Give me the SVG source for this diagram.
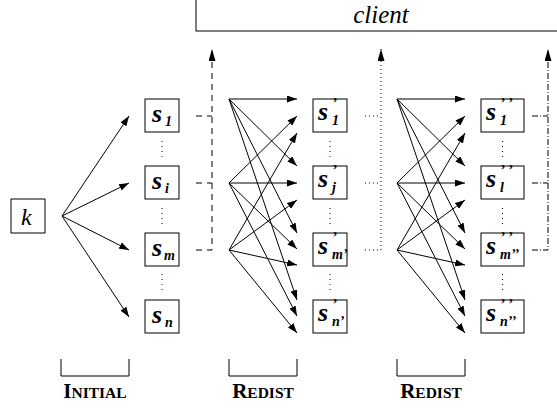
<svg xmlns="http://www.w3.org/2000/svg" width="557" height="410" viewBox="0 0 557 410">
<style>
.bx{fill:#fff;stroke:#000;stroke-width:1}
.ln{fill:none;stroke:#000;stroke-width:1}
.s{font-family:'Liberation Serif',serif;font-style:italic;font-weight:bold;font-size:26px;fill:#000}
.sb{font-size:14px}
.pr{font-size:15px}
.dots{fill:none;stroke:#000;stroke-width:1;stroke-dasharray:1,4}
.dash{fill:none;stroke:#000;stroke-width:1;stroke-dasharray:6,5}
.dot{fill:none;stroke:#000;stroke-width:1;stroke-dasharray:1,3}
.dd{fill:none;stroke:#000;stroke-width:1;stroke-dasharray:6,2,1,2}
.lab{font-family:'Liberation Serif',serif;font-weight:bold;font-size:21px;fill:#000}
.sc{font-size:15.5px}
</style>
<defs>
<marker id="ah" markerWidth="10" markerHeight="7" refX="10" refY="3.5" orient="auto" markerUnits="userSpaceOnUse"><path d="M0,0 L10,3.5 L0,7 z" fill="#000"/></marker>
<marker id="av" markerWidth="12" markerHeight="7" refX="12" refY="3.5" orient="auto" markerUnits="userSpaceOnUse"><path d="M0,0 L12,3.5 L0,7 z" fill="#000"/></marker>
</defs>

<g id="client">
<rect class="bx" x="196" y="-10" width="400" height="41"/>
<text x="381" y="23" text-anchor="middle" font-family="Liberation Serif" font-style="italic" font-size="25">client</text>
</g>

<g id="k">
<rect class="bx" x="11" y="199" width="34" height="34"/>
<text x="21" y="225" font-family="Liberation Serif" font-style="italic" font-size="24">k</text>
</g>

<g id="S1"><rect class="bx" x="145" y="99" width="34" height="33"/><text class="s" x="152" y="122">s<tspan class="sb" x="165" y="126">1</tspan></text></g>
<g id="Si"><rect class="bx" x="145" y="166" width="34" height="33"/><text class="s" x="152" y="189">s<tspan class="sb" x="165" y="193">i</tspan></text></g>
<g id="Sm"><rect class="bx" x="145" y="233" width="34" height="33"/><text class="s" x="152" y="256">s<tspan class="sb" x="164" y="260">m</tspan></text></g>
<g id="Sn"><rect class="bx" x="145" y="300" width="34" height="33"/><text class="s" x="152" y="323">s<tspan class="sb" x="165" y="327">n</tspan></text></g>

<g id="S1p"><rect class="bx" x="313" y="99" width="34" height="33"/><text class="s" x="318" y="120">s<tspan class="pr" x="332" y="108">’</tspan><tspan class="sb" x="332" y="125">1</tspan></text></g>
<g id="Sjp"><rect class="bx" x="313" y="166" width="34" height="33"/><text class="s" x="318" y="187">s<tspan class="pr" x="332" y="175">’</tspan><tspan class="sb" x="332" y="192">j</tspan></text></g>
<g id="Smp"><rect class="bx" x="313" y="233" width="34" height="33"/><text class="s" x="318" y="254">s<tspan class="pr" x="332" y="242">’</tspan><tspan class="sb" x="332" y="259">m’</tspan></text></g>
<g id="Snp"><rect class="bx" x="313" y="300" width="34" height="33"/><text class="s" x="318" y="321">s<tspan class="pr" x="332" y="309">’</tspan><tspan class="sb" x="332" y="326">n’</tspan></text></g>

<g id="S1pp"><rect class="bx" x="481" y="99" width="43" height="33"/><text class="s" x="486" y="120">s<tspan class="pr" x="500" y="108">’ ’</tspan><tspan class="sb" x="500" y="125">1</tspan></text></g>
<g id="Slpp"><rect class="bx" x="481" y="166" width="43" height="33"/><text class="s" x="486" y="187">s<tspan class="pr" x="500" y="175">’ ’</tspan><tspan class="sb" x="500" y="192">l</tspan></text></g>
<g id="Smpp"><rect class="bx" x="481" y="233" width="43" height="33"/><text class="s" x="486" y="254">s<tspan class="pr" x="500" y="242">’ ’</tspan><tspan class="sb" x="500" y="259">m’’</tspan></text></g>
<g id="Snpp"><rect class="bx" x="481" y="300" width="43" height="33"/><text class="s" x="486" y="321">s<tspan class="pr" x="500" y="309">’ ’</tspan><tspan class="sb" x="500" y="326">n’’</tspan></text></g>

<g id="vdots">
<path class="dots" d="M162,141V159M162,208V226M162,274V292M330,141V159M330,208V226M330,274V292M502.5,141V159M502.5,208V226M502.5,274V292"/>
</g>

<g id="labels">
<path class="ln" d="M61,359V376H129V359M229,359V376H297V359M397,359V376H465V359"/>
<text class="lab" x="95" y="398" text-anchor="middle">I<tspan class="sc">NITIAL</tspan></text>
<text class="lab" x="263" y="398" text-anchor="middle">R<tspan class="sc">EDIST</tspan></text>
<text class="lab" x="431" y="398" text-anchor="middle">R<tspan class="sc">EDIST</tspan></text>
</g>

<g id="connectors">
<g class="ln" marker-end="url(#ah)">
<line x1="62" y1="216" x2="129" y2="116"/>
<line x1="62" y1="216" x2="129" y2="183"/>
<line x1="62" y1="216" x2="129" y2="250"/>
<line x1="62" y1="216" x2="129" y2="317"/>

<line x1="229" y1="99" x2="297" y2="99"/>
<line x1="229" y1="99" x2="297" y2="166"/>
<line x1="229" y1="99" x2="297" y2="233"/>
<line x1="229" y1="99" x2="297" y2="300"/>
<line x1="229" y1="183" x2="297" y2="116"/>
<line x1="229" y1="183" x2="297" y2="183"/>
<line x1="229" y1="183" x2="297" y2="249"/>
<line x1="229" y1="183" x2="297" y2="316"/>
<line x1="229" y1="250" x2="297" y2="133"/>
<line x1="229" y1="250" x2="297" y2="200"/>
<line x1="229" y1="250" x2="297" y2="265"/>
<line x1="229" y1="250" x2="297" y2="333"/>

<line x1="397" y1="99" x2="465" y2="99"/>
<line x1="397" y1="99" x2="465" y2="166"/>
<line x1="397" y1="99" x2="465" y2="233"/>
<line x1="397" y1="99" x2="465" y2="300"/>
<line x1="397" y1="183" x2="465" y2="116"/>
<line x1="397" y1="183" x2="465" y2="183"/>
<line x1="397" y1="183" x2="465" y2="249"/>
<line x1="397" y1="183" x2="465" y2="316"/>
<line x1="397" y1="250" x2="465" y2="133"/>
<line x1="397" y1="250" x2="465" y2="200"/>
<line x1="397" y1="250" x2="465" y2="265"/>
<line x1="397" y1="250" x2="465" y2="333"/>
</g>
<path class="dash" d="M196,116H212M196,183H212"/>
<path class="dash" d="M196,250H212V49" marker-end="url(#av)"/>
<path class="dot" d="M365,116H381M365,183H381"/>
<path class="dot" d="M365,250H381V49" marker-end="url(#av)"/>
<path class="dd" d="M532,116H548M532,183H548"/>
<path class="dd" d="M532,250H548V49" marker-end="url(#av)"/>
</g>
</svg>
